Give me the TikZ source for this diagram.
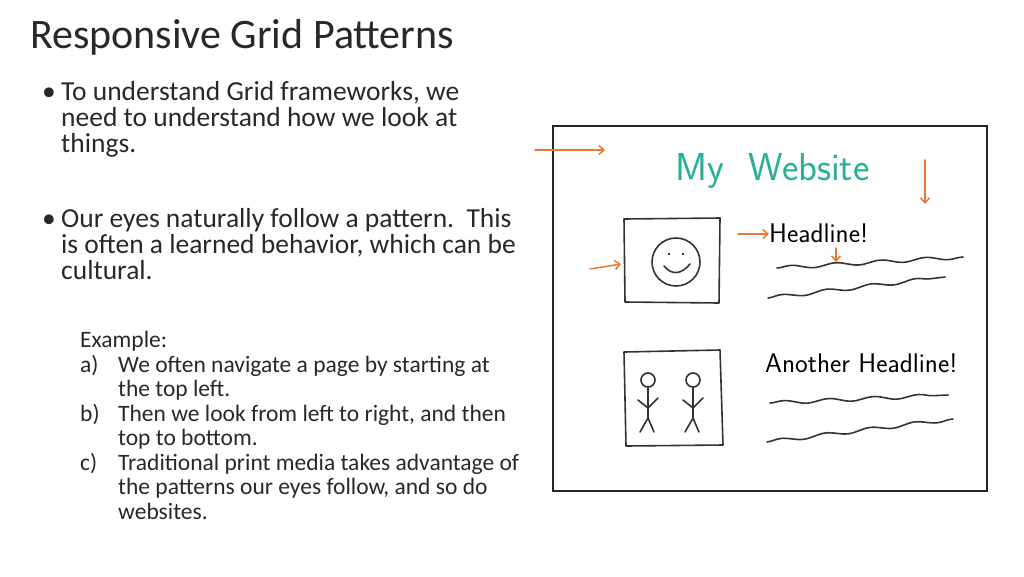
\documentclass[tikz,border=0pt]{standalone}
\usepackage{fontspec}
\setmainfont{Carlito}
\usetikzlibrary{decorations.pathmorphing,arrows.meta}
\definecolor{penorange}{RGB}{232,120,50}
\definecolor{penteal}{RGB}{40,175,150}
\definecolor{slidetext}{RGB}{40,40,40}
\tikzset{
  txt/.style={anchor=base west, inner sep=0pt, text=slidetext, font=\fontsize{27.5}{32}\selectfont},
  small/.style={anchor=base west, inner sep=0pt, text=slidetext, font=\fontsize{23.5}{28}\selectfont},
  pen/.style={line width=1.6pt, draw=black!80, line cap=round, line join=round},
  look/.style={line width=1.5pt, draw=penorange, -{Straight Barb[length=5pt,width=9pt]}, line cap=round},
  wave/.style={pen, decorate, decoration={snake, amplitude=1.8pt, segment length=45pt}},
  hand/.style={anchor=base west, inner sep=0pt, font=\sffamily\fontsize{27}{30}\selectfont}
}
\begin{document}
\begin{tikzpicture}[x=1pt,y=-1pt]
\useasboundingbox (0,0) rectangle (1024,576);
\node[anchor=base west, inner sep=0pt, text=slidetext, font=\fontsize{42}{48}\selectfont] (title) at (30,48) {Responsive Grid Patterns};

\node[txt] (b1) at (42,100) {\textbullet};
\node[txt] (l1) at (61,100) {To understand Grid frameworks, we};
\node[txt] (l2) at (61,126) {need to understand how we look at};
\node[txt] (l3) at (61,152) {things.};
\node[txt] (b2) at (42,227) {\textbullet};
\node[txt] (l4) at (61,227) {Our eyes naturally follow a pattern.\ \ This};
\node[txt] (l5) at (61,253) {is often a learned behavior, which can be};
\node[txt] (l6) at (61,279) {cultural.};

\node[small] (ex) at (80,347) {Example:};
\node[small] (ea) at (80,372) {a)};
\node[small] (ea1) at (118,372) {We often navigate a page by starting at};
\node[small] (ea2) at (118,396) {the top left.};
\node[small] (eb) at (80,421) {b)};
\node[small] (eb1) at (118,421) {Then we look from left to right, and then};
\node[small] (eb2) at (118,445) {top to bottom.};
\node[small] (ec) at (80,470) {c)};
\node[small] (ec1) at (118,470) {Traditional print media takes advantage of};
\node[small] (ec2) at (118,494) {the patterns our eyes follow, and so do};
\node[small] (ec3) at (118,519) {websites.};

% sketch
\draw[line width=2.8pt, draw=black!85] (553,126) rectangle (987,491);
\node[hand, text=penteal, font=\sffamily\fontsize{39}{44}\selectfont] (site) at (675,180) {My\ \ Website};

\draw[pen] (624,219) -- (720,218) -- (719,303) -- (625,302) -- cycle;
\draw[pen] (676,262) circle (24);
\fill (669,254) circle (1.2) (683,254) circle (1.2);
\draw[pen] (664,266) .. controls (672,276) and (682,274) .. (690,264);

\draw[pen] (624,352) -- (720,350) -- (723,445) -- (626,446) -- cycle;
\foreach \cx in {648,693} {
  \draw[pen] (\cx,380) circle (7);
  \draw[pen] (\cx,387) -- (\cx,418) (\cx-10,400) -- (\cx,408) -- (\cx+10,398)
             (\cx-8,432) -- (\cx,418) -- (\cx+6,432);
}

\node[hand] (head) at (769,242) {Headline!};
\node[hand] (head2) at (765,372) {Another Headline!};
\draw[wave] (777,268) -- (963,257);
\draw[wave] (768,298) -- (945,277);
\draw[wave] (770,403) -- (948,395);
\draw[wave] (767,442) -- (953,419);

\coordinate (a1s) at (535,150);
\coordinate (a1e) at (605,150);
\coordinate (a2s) at (925,160);
\coordinate (a2e) at (925,204);
\coordinate (a3s) at (738,234);
\coordinate (a4s) at (590,269);
\coordinate (a5s) at (836,248);
\coordinate (a5e) at (836,262);
\draw[look] (a1s) -- (a1e);
\draw[look] (a2s) -- (a2e);
\draw[look] (a3s) -- (head.west|-a3s);
\draw[look] (a4s) -- (621,264);
\draw[look] (a5s) -- (a5e);
\end{tikzpicture}
\end{document}
